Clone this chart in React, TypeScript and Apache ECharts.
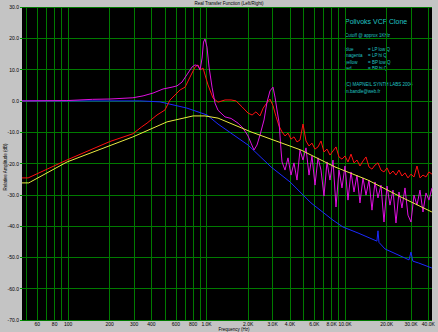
import React, { useEffect, useRef } from "react";
import * as echarts from "echarts";

// ---- axis tick / label frequencies (Hz) ----
const gridFreqs = [50, 60, 70, 80, 90, 100, 200, 300, 400, 500, 600, 700, 800, 900, 1000, 2000, 3000, 4000, 5000, 6000, 7000, 8000, 9000, 10000, 20000, 30000, 40000];
const labelFreqs = [60, 80, 100, 200, 300, 400, 600, 800, 1000, 2000, 3000, 4000, 6000, 8000, 10000, 20000, 30000, 40000];

// ---- blue: LP low Q ----
const blueFreq = [46.5, 200, 330, 461, 722, 1009, 1211, 1995, 2924, 4012, 5687, 8190, 9675, 12420, 17000, 17310, 17600, 19450, 27120, 29000, 29965, 30900, 34100, 42460];
const blueDb = [0, 0, 0, -0.3, -2.3, -4.5, -7.4, -14.1, -21.1, -25.9, -32.6, -38.1, -40.3, -42.2, -44.8, -41.5, -45.2, -47.3, -50.2, -50.8, -48.3, -51.2, -51.8, -53.4];

// ---- yellow: BP low Q ----
const yellowFreq = [46.5, 52, 53.5, 98.4, 294, 519, 800, 975, 1211, 2094, 4810, 8470, 14650, 25350, 42460];
const yellowDb = [-26.2, -26.2, -25.9, -19.5, -11.5, -6.7, -4.8, -4.8, -5.5, -9.9, -15.7, -21.1, -25.3, -30.7, -35.5];

// ---- red: BP hi Q (below ~3.4 kHz) ----
const redLowFreq = [46.5, 51.5, 98, 200, 294, 340, 372, 439, 501, 545, 644, 700, 760, 826, 868, 898, 944, 1025, 1114, 1211, 1361, 1504, 1634, 1805, 1995, 2134, 2275, 2432, 2566, 2690, 2871, 3021, 3176, 3338];
const redLowDb = [-24.6, -24.6, -18.9, -13.0, -10.5, -8.3, -7.1, -4.5, -2.9, 0.3, 3.5, 4.4, 7.6, 10.8, 11.5, 9.9, 10.5, 5.1, 0.9, -0.4, 0.3, 0.3, 0.0, -1.9, -3.9, -4.5, -3.5, -4.8, -2.3, -1.0, 0.6, -1.5, -5.0, -8.0];

// ---- magenta: LP hi Q (below ~3.5 kHz) ----
const magentaLowFreq = [46.5, 98, 150, 200, 294, 348, 411, 485, 564, 612, 665, 735, 785, 826, 868, 898, 929, 951, 975, 1008, 1043, 1096, 1151, 1211, 1360, 1504, 1688, 1834, 1995, 2096, 2203, 2315, 2434, 2602, 2734, 2874, 3021, 3124, 3228, 3338, 3452];
const magentaLowDb = [0, 0.1, 0.5, 0.6, 1.0, 1.6, 2.5, 3.8, 4.4, 4.8, 6.0, 8.9, 10.8, 11.5, 11.2, 9.9, 13.7, 18.8, 19.8, 17.2, 10.8, 4.4, -0.7, -3.0, -5.1, -5.6, -7.1, -8.7, -11.2, -13.5, -15.7, -14.1, -10.9, -6.1, -0.4, 3.2, 4.4, 1.2, -2.9, -6.7, -15.7];

// ---- noisy high-frequency part (shared frequencies) ----
const noiseFreq = [3510, 3688, 3877, 4075, 4283, 4503, 4733, 4975, 5230, 5497, 5777, 6073, 6384, 6711, 7052, 7415, 7794, 8192, 8610, 9052, 9513, 10000, 10512, 11050, 11615, 12209, 12830, 13490, 14180, 14905, 15665, 16470, 17310, 18195, 19125, 20105, 21130, 22215, 23350, 24545, 25800, 27120, 28505, 29965, 31495, 33110, 34800, 36580, 38450, 40420, 42490];
const redNoiseDb = [-9.9, -11.2, -10.3, -12.2, -11.5, -13.1, -12.5, -7.4, -12.8, -14.4, -13.5, -15.4, -14.7, -12.8, -16.3, -15.4, -17.3, -16.0, -14.7, -17.9, -18.6, -17.6, -19.5, -17.0, -19.8, -18.9, -20.8, -19.2, -17.9, -21.1, -21.8, -20.5, -19.8, -22.1, -22.7, -21.4, -23.4, -22.4, -23.7, -22.1, -24.0, -23.0, -24.6, -23.4, -24.3, -20.8, -24.6, -23.7, -24.3, -22.7, -23.4];
const magentaNoiseDb = [-19.5, -22.1, -18.2, -23.7, -19.8, -25.3, -15.7, -18.9, -15.0, -23.7, -17.6, -26.9, -18.2, -22.1, -30.4, -19.5, -25.3, -18.9, -33.9, -22.1, -27.8, -20.8, -31.7, -22.7, -29.1, -23.7, -32.6, -24.6, -30.1, -25.3, -34.9, -25.9, -31.0, -26.9, -38.7, -27.2, -33.3, -28.5, -39.0, -29.1, -34.2, -27.8, -36.5, -38.7, -30.1, -33.3, -28.5, -35.5, -29.4, -31.7, -27.8];

const legendLines = [
  ["blue", "= LP low Q"],
  ["magenta", "= LP hi Q"],
  ["yellow", "= BP low Q"],
  ["red", "= BP hi Q"],
];

const toXY = (fs: number[], ds: number[]) => fs.map((f, i) => [Math.log10(f), ds[i]]);

const fmtFreq = (v: number) => {
  const f = Math.round(Math.pow(10, v));
  return f >= 1000 ? (f / 1000).toFixed(1) + "K" : String(f);
};

const FONT = '"Liberation Sans", Arial, sans-serif';
const CYAN = "#20c4c4";
const GREEN = "#007a00";

export default function App() {
  const ref = useRef<HTMLDivElement>(null);
  useEffect(() => {
    if (!ref.current) return;
    const chart = echarts.init(ref.current, undefined, { renderer: "svg" });
    const lineSeries = (name: string, data: number[][], color: string) => ({
      name,
      type: "line",
      data,
      showSymbol: false,
      symbol: "none",
      lineStyle: { color, width: 1 },
      silent: true,
    });
    const textEls: any[] = [
      { type: "text", x: 229, y: 3.5, style: { text: "Real Transfer Function (Left/Right)", font: `4.5px ${FONT}`, fill: "#000", textAlign: "center", textVerticalAlign: "middle" } },
      { type: "text", x: 234, y: 329.3, style: { text: "Frequency (Hz)", font: `4.5px ${FONT}`, fill: "#000", textAlign: "center", textVerticalAlign: "middle" } },
      { type: "text", x: 5, y: 167, rotation: Math.PI / 2, style: { text: "Relative Amplitude (dB)", font: `4.5px ${FONT}`, fill: "#000", textAlign: "center", textVerticalAlign: "middle" } },
      { type: "text", x: 345, y: 21, style: { text: "Polivoks VCF Clone", font: `7px ${FONT}`, fill: CYAN, textVerticalAlign: "middle" } },
      { type: "text", x: 345, y: 35, style: { text: "Cutoff @ approx 1KHz", font: `4.5px ${FONT}`, fill: CYAN, textVerticalAlign: "middle" } },
      { type: "text", x: 345, y: 84, style: { text: "(C) MAPNEIL SYNTH LABS 2004", font: `4.5px ${FONT}`, fill: CYAN, textVerticalAlign: "middle" } },
      { type: "text", x: 345, y: 91, style: { text: "m.bandle@web.fr", font: `4.5px ${FONT}`, fill: CYAN, textVerticalAlign: "middle" } },
    ];
    const legendY = [49, 55.5, 62, 68.5];
    legendLines.forEach((l, i) => {
      textEls.push({ type: "text", x: 345, y: legendY[i], style: { text: l[0], font: `4.5px ${FONT}`, fill: CYAN, textVerticalAlign: "middle" } });
      textEls.push({ type: "text", x: 368, y: legendY[i], style: { text: l[1], font: `4.5px ${FONT}`, fill: CYAN, textVerticalAlign: "middle" } });
    });

    chart.setOption({
      animation: false,
      backgroundColor: "#c4c4c4",
      grid: { left: 22, right: 6, top: 7, bottom: 12, show: true, backgroundColor: "#000", borderWidth: 0 },
      xAxis: {
        type: "value",
        min: Math.log10(46.5),
        max: Math.log10(42500),
        axisLine: { show: false },
        axisTick: { show: false, customValues: gridFreqs.map((f) => Math.log10(f)) },
        splitLine: { show: true, lineStyle: { color: GREEN, width: 1 } },
        axisLabel: {
          customValues: labelFreqs.map((f) => Math.log10(f)),
          formatter: fmtFreq,
          fontSize: 5,
          fontFamily: FONT,
          color: "#000",
          margin: 1,
        },
      },
      yAxis: {
        type: "value",
        min: -70,
        max: 30,
        interval: 10,
        axisLine: { show: false },
        axisTick: { show: true, length: 2, lineStyle: { color: "#00a000" } },
        splitLine: { show: true, lineStyle: { color: GREEN, width: 1 } },
        axisLabel: {
          formatter: (v: number) => v.toFixed(1),
          fontSize: 5,
          fontFamily: FONT,
          color: "#000",
          margin: 3,
        },
      },
      series: [
        lineSeries("blue", toXY(blueFreq, blueDb), "#1a2aff"),
        lineSeries("red", toXY(redLowFreq.concat(noiseFreq), redLowDb.concat(redNoiseDb)), "#ff1010"),
        lineSeries("magenta", toXY(magentaLowFreq.concat(noiseFreq), magentaLowDb.concat(magentaNoiseDb)), "#e010e0"),
        lineSeries("yellow", toXY(yellowFreq, yellowDb), "#eaea40"),
      ],
      graphic: textEls,
    });
    return () => chart.dispose();
  }, []);
  return <div ref={ref} style={{ position: "fixed", left: 0, top: 0, width: 438, height: 332 }} />;
}
